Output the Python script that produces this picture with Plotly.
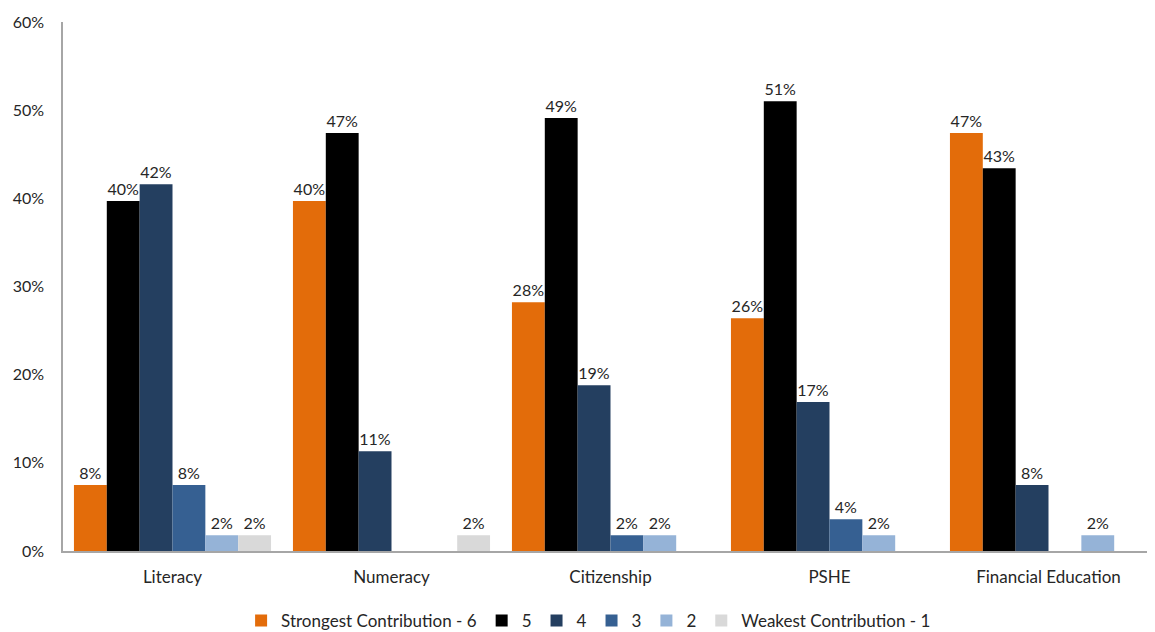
import plotly.graph_objects as go

categories = ["Literacy", "Numeracy", "Citizenship", "PSHE", "Financial Education"]
series_names = ["Strongest Contribution - 6", "5", "4", "3", "2", "Weakest Contribution - 1"]
s6 = [0.075, 0.397, 0.282, 0.264, 0.474]
s5 = [0.397, 0.474, 0.491, 0.510, 0.434]
s4 = [0.416, 0.113, 0.188, 0.169, 0.075]
s3 = [0.075, None, 0.018, 0.036, None]
s2 = [0.018, None, 0.018, 0.018, 0.018]
s1 = [0.018, 0.018, None, None, None]
colors = ["#E36C0A", "#000000", "#243F60", "#366092", "#95B3D7", "#D9D9D9"]
y_ticks = [0, 0.1, 0.2, 0.3, 0.4, 0.5, 0.6]

FONT = "Lato, 'Open Sans', sans-serif"

fig = go.Figure()
for name, vals, col in zip(series_names, [s6, s5, s4, s3, s2, s1], colors):
    fig.add_trace(go.Bar(
        x=categories, y=vals, name=name,
        marker=dict(color=col, line=dict(width=0)),
        texttemplate="%{y:.0%}", textposition="outside",
        textfont=dict(size=16, color="#262626", family=FONT),
        cliponaxis=False,
    ))

fig.update_layout(
    width=1150, height=624,
    margin=dict(l=55, r=0, t=14, b=81, autoexpand=False),
    barmode="group", bargap=0.1, bargroupgap=0,
    plot_bgcolor="white", paper_bgcolor="white",
    font=dict(family=FONT, size=16, color="#262626"),
    showlegend=True,
    legend=dict(orientation="h", x=0.48, xanchor="center", y=-0.098, yanchor="top",
                font=dict(size=17, color="#262626"), itemwidth=30,
                traceorder="normal"),
)
fig.update_yaxes(range=[0, 0.6], tickvals=y_ticks, tickformat=".0%", automargin=False,
                 showgrid=False, showline=True, linecolor="#A6A6A6", linewidth=1.5,
                 ticks="", zeroline=False, ticklabelstandoff=14,
                 tickfont=dict(size=16, color="#262626"))
fig.update_xaxes(showgrid=False, showline=True, linecolor="#A6A6A6", linewidth=1.5,
                 ticks="", automargin=False, ticklabelstandoff=10,
                 tickfont=dict(size=17, color="#262626"))

fig.write_html("out.html")
